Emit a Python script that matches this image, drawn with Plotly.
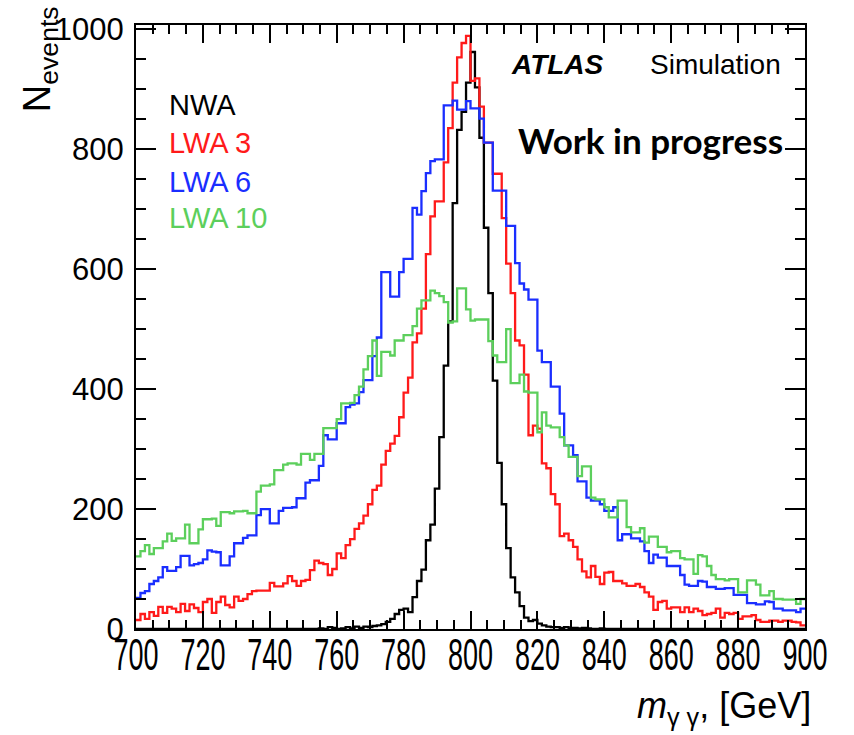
import numpy as np
import plotly.graph_objects as go

# Binning of the diphoton mass histograms
X_MIN, X_MAX, N_BINS = 700.0, 900.0, 150

# Event counts per bin (150 bins of 4/3 GeV from 700 to 900 GeV)
nwa = [0, 0, 0, 0, 0, 0, 0, 0, 0, 0,
       0, 0, 0, 0, 0, 0, 0, 0, 0, 0,
       0, 0, 0, 0, 0, 0, 0, 0, 0, 0,
       0, 0, 0, 0, 0, 0, 0, 0, 0, 0,
       0, 1, 0, 3, 2, 0, 1, 3, 1, 4,
       2, 4, 3, 5, 6, 8, 12, 17, 25, 32,
       34, 28, 53, 80, 99, 148, 174, 234, 320, 439,
       513, 710, 832, 862, 911, 962, 903, 819, 669, 560,
       414, 277, 208, 135, 86, 61, 38, 19, 13, 15,
       9, 6, 4, 3, 3, 2, 3, 1, 2, 1,
       2, 1, 0, 0, 1, 0, 0, 0, 0, 0,
       0, 0, 0, 0, 0, 0, 0, 0, 0, 0,
       0, 0, 0, 0, 0, 0, 0, 0, 0, 0,
       0, 0, 0, 0, 0, 0, 0, 0, 0, 0,
       0, 0, 0, 0, 0, 0, 0, 0, 0, 0]

lwa3 = [15, 25, 17, 28, 22, 37, 27, 37, 34, 28,
        42, 30, 41, 35, 28, 45, 50, 27, 45, 54,
        40, 36, 54, 47, 50, 58, 63, 64, 64, 64,
        77, 71, 71, 76, 88, 80, 72, 80, 82, 98,
        114, 110, 108, 90, 100, 126, 118, 140, 150, 167,
        176, 189, 208, 232, 239, 274, 297, 309, 322, 353,
        394, 419, 478, 493, 534, 625, 688, 713, 713, 778,
        835, 911, 953, 977, 989, 914, 918, 871, 811, 811,
        759, 759, 685, 609, 560, 481, 473, 424, 323, 339,
        334, 276, 268, 225, 208, 155, 159, 148, 137, 116,
        96, 86, 105, 87, 75, 94, 95, 80, 80, 76,
        72, 72, 75, 70, 61, 54, 32, 45, 47, 34,
        36, 36, 28, 36, 28, 34, 30, 23, 25, 27,
        34, 19, 27, 25, 27, 17, 21, 21, 23, 15,
        12, 12, 14, 14, 12, 14, 14, 12, 11, 6]

lwa6 = [52, 60, 63, 75, 80, 86, 103, 97, 97, 103,
        122, 122, 106, 108, 110, 116, 131, 129, 128, 106,
        106, 121, 143, 143, 152, 156, 156, 190, 200, 200,
        176, 176, 197, 202, 202, 203, 218, 218, 244, 248,
        248, 272, 323, 316, 316, 343, 343, 370, 374, 376,
        395, 415, 415, 455, 486, 595, 595, 554, 554, 595,
        617, 617, 702, 691, 730, 760, 780, 783, 783, 873,
        873, 881, 866, 866, 880, 868, 868, 851, 811, 811,
        731, 731, 731, 672, 672, 610, 576, 566, 549, 549,
        464, 445, 445, 404, 404, 359, 306, 306, 290, 246,
        246, 219, 214, 214, 208, 197, 197, 203, 148, 158,
        158, 151, 151, 146, 130, 110, 124, 119, 119, 105,
        105, 105, 90, 74, 72, 72, 80, 79, 70, 70,
        67, 67, 68, 68, 57, 57, 57, 43, 43, 41,
        41, 46, 45, 34, 34, 31, 31, 31, 28, 34]

lwa10 = [121, 130, 140, 125, 135, 135, 146, 159, 147, 151,
         151, 174, 143, 143, 166, 183, 183, 184, 172, 195,
         195, 193, 196, 196, 197, 193, 193, 229, 239, 239,
         241, 265, 265, 274, 276, 276, 274, 292, 292, 282,
         292, 292, 335, 335, 335, 350, 376, 376, 377, 390,
         404, 433, 455, 481, 422, 462, 462, 456, 481, 481,
         490, 490, 505, 534, 548, 548, 564, 560, 555, 545,
         511, 513, 568, 568, 533, 514, 516, 516, 516, 480,
         456, 445, 445, 500, 410, 410, 424, 396, 394, 394,
         328, 361, 339, 336, 336, 320, 306, 287, 287, 255,
         271, 271, 219, 216, 216, 203, 186, 186, 214, 214,
         170, 161, 161, 168, 144, 154, 154, 137, 137, 128,
         130, 130, 118, 116, 116, 92, 123, 121, 105, 90,
         83, 83, 81, 83, 83, 61, 61, 81, 81, 74,
         56, 56, 63, 50, 50, 49, 49, 49, 42, 50]

samples = [
    ("NWA", nwa, "#000000"),
    ("LWA 3", lwa3, "#ff1a1a"),
    ("LWA 6", lwa6, "#1a2eff"),
    ("LWA 10", lwa10, "#5ccf5c"),
]

x_ticks = list(range(700, 901, 20))
y_ticks = list(range(0, 1001, 200))

edges = np.linspace(X_MIN, X_MAX, N_BINS + 1)

fig = go.Figure()
for name, counts, color in samples:
    # step outline: each bin drawn flat between its edges
    fig.add_trace(go.Scatter(
        x=edges, y=list(counts) + [counts[-1]],
        mode="lines", name=name, showlegend=False, hoverinfo="skip",
        line=dict(color=color, width=2.3, shape="hv"),
    ))

axis_common = dict(
    showline=True, linecolor="black", linewidth=2, mirror="allticks",
    ticks="inside", tickcolor="black", tickwidth=1.5,
    showgrid=False, zeroline=False,
)

fig.update_layout(
    width=854, height=735,
    margin=dict(l=136, r=43, t=13, b=106),
    paper_bgcolor="white", plot_bgcolor="white",
    font=dict(family="Liberation Sans, Arial, sans-serif", color="black"),
    xaxis=dict(
        range=[X_MIN, X_MAX], tickvals=x_ticks, ticklen=18,
        tickfont=dict(size=44), tickangle=0, ticklabelstandoff=-14,
        minor=dict(tick0=700, dtick=5, ticklen=9, ticks="inside",
                   tickcolor="black", tickwidth=1.5),
        **axis_common,
    ),
    yaxis=dict(
        range=[0, 1007], tickvals=y_ticks, ticklen=20,
        tickfont=dict(size=31), ticklabelstandoff=4,
        minor=dict(tick0=0, dtick=50, ticklen=10, ticks="inside",
                   tickcolor="black", tickwidth=1.5),
        **axis_common,
    ),
)

# axis titles
fig.add_annotation(
    text="N<sub>events</sub>", textangle=-90, showarrow=False,
    xref="paper", yref="paper", x=-0.143, y=1.035,
    xanchor="center", yanchor="top", font=dict(size=38),
)
fig.add_annotation(
    text="<i>m</i><sub>γ γ</sub>, [GeV]", showarrow=False,
    xref="paper", yref="paper", x=1.012, y=-0.13,
    xanchor="right", yanchor="middle", font=dict(size=36),
)

# legend as coloured labels
legend_y = [0.868, 0.804, 0.74, 0.68]
for (name, _, color), yy in zip(samples, legend_y):
    fig.add_annotation(
        text=name, showarrow=False, xref="paper", yref="paper",
        x=0.046, y=yy, xanchor="left", yanchor="middle",
        font=dict(size=29, color=color),
    )

fig.add_annotation(
    text="<b><i>ATLAS</i></b>", showarrow=False, xref="paper", yref="paper",
    x=0.558, y=0.935, xanchor="left", yanchor="middle", font=dict(size=28),
)
fig.add_annotation(
    text="Simulation", showarrow=False, xref="paper", yref="paper",
    x=0.766, y=0.935, xanchor="left", yanchor="middle", font=dict(size=28),
)
fig.add_annotation(
    text="<b>Work in progress</b>", showarrow=False, xref="paper", yref="paper",
    x=0.568, y=0.81, xanchor="left", yanchor="middle",
    font=dict(size=35, family="Lato, Open Sans, sans-serif"),
)

# narrow the horizontal-axis numbers to the condensed look of the labels
post = """
function squeezeLabels(){
  var gd = document.getElementById('{plot_id}');
  if(!gd) return;
  gd.querySelectorAll('.xtick text').forEach(function(t){
    var n = t.textContent.length;
    t.setAttribute('textLength', String(n * 15));
    t.setAttribute('lengthAdjust', 'spacingAndGlyphs');
  });
}
squeezeLabels();
setTimeout(squeezeLabels, 50);
"""

fig.write_html("out.html", post_script=post)
